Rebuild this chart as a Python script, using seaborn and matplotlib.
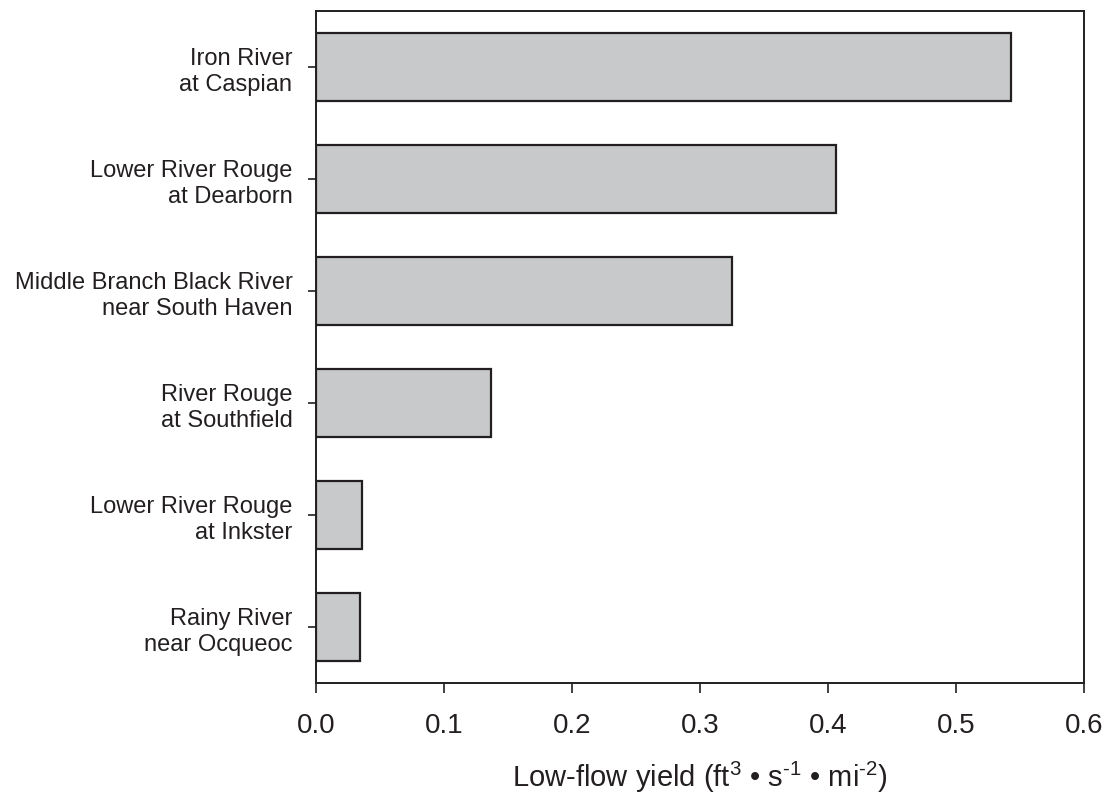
import matplotlib
matplotlib.use("Agg")
import matplotlib.pyplot as plt
import pandas as pd
import seaborn as sns

# -----------------------------
# Data
# -----------------------------
sites = [
    "Iron River\nat Caspian",
    "Lower River Rouge\nat Dearborn",
    "Middle Branch Black River\nnear South Haven",
    "River Rouge\nat Southfield",
    "Lower River Rouge\nat Inkster",
    "Rainy River\nnear Ocqueoc",
]
yields = [0.543, 0.406, 0.325, 0.137, 0.036, 0.034]
x_ticks = [0.0, 0.1, 0.2, 0.3, 0.4, 0.5, 0.6]

df = pd.DataFrame({"site": sites, "yield": yields})

# -----------------------------
# Style
# -----------------------------
sns.set_style("ticks")
plt.rcParams["font.family"] = ["Liberation Sans", "DejaVu Sans"]
plt.rcParams["mathtext.fontset"] = "custom"
plt.rcParams["mathtext.rm"] = "Liberation Sans"
plt.rcParams["mathtext.it"] = "Liberation Sans"
ink = "#231f20"

fig = plt.figure(figsize=(11.08, 8.03), dpi=100)
ax = fig.add_axes([0.2852, 0.1482, 0.6931, 0.8369])

sns.barplot(data=df, x="yield", y="site", orient="h", color="#c8c9cb",
            edgecolor=ink, linewidth=1.6, width=0.6, saturation=1, ax=ax)

ax.set_xlim(0, 0.6)
ax.set_ylim(5.5, -0.5)
ax.set_xticks(x_ticks)
ax.set_xticklabels([f"{t:.1f}" for t in x_ticks])

for side in ["left", "right", "top", "bottom"]:
    ax.spines[side].set_visible(True)
    ax.spines[side].set_color(ink)
    ax.spines[side].set_linewidth(1.4)

ax.tick_params(axis="x", direction="out", length=7, width=1.2, colors=ink,
               labelsize=20, pad=14, labelcolor=ink)
ax.tick_params(axis="y", direction="out", length=6, width=1.2, colors=ink,
               labelsize=17, pad=11, labelcolor=ink)
for lbl in ax.get_yticklabels():
    lbl.set_horizontalalignment("right")
    lbl.set_multialignment("right")

ax.set_ylabel("")
ax.set_xlabel("Low-flow yield (ft$^{3}$ \u2022 s$^{\\text{-}1}$ \u2022 mi$^{\\text{-}2}$)",
              fontsize=21, color=ink, labelpad=15)

fig.savefig("out.png", dpi=100)
